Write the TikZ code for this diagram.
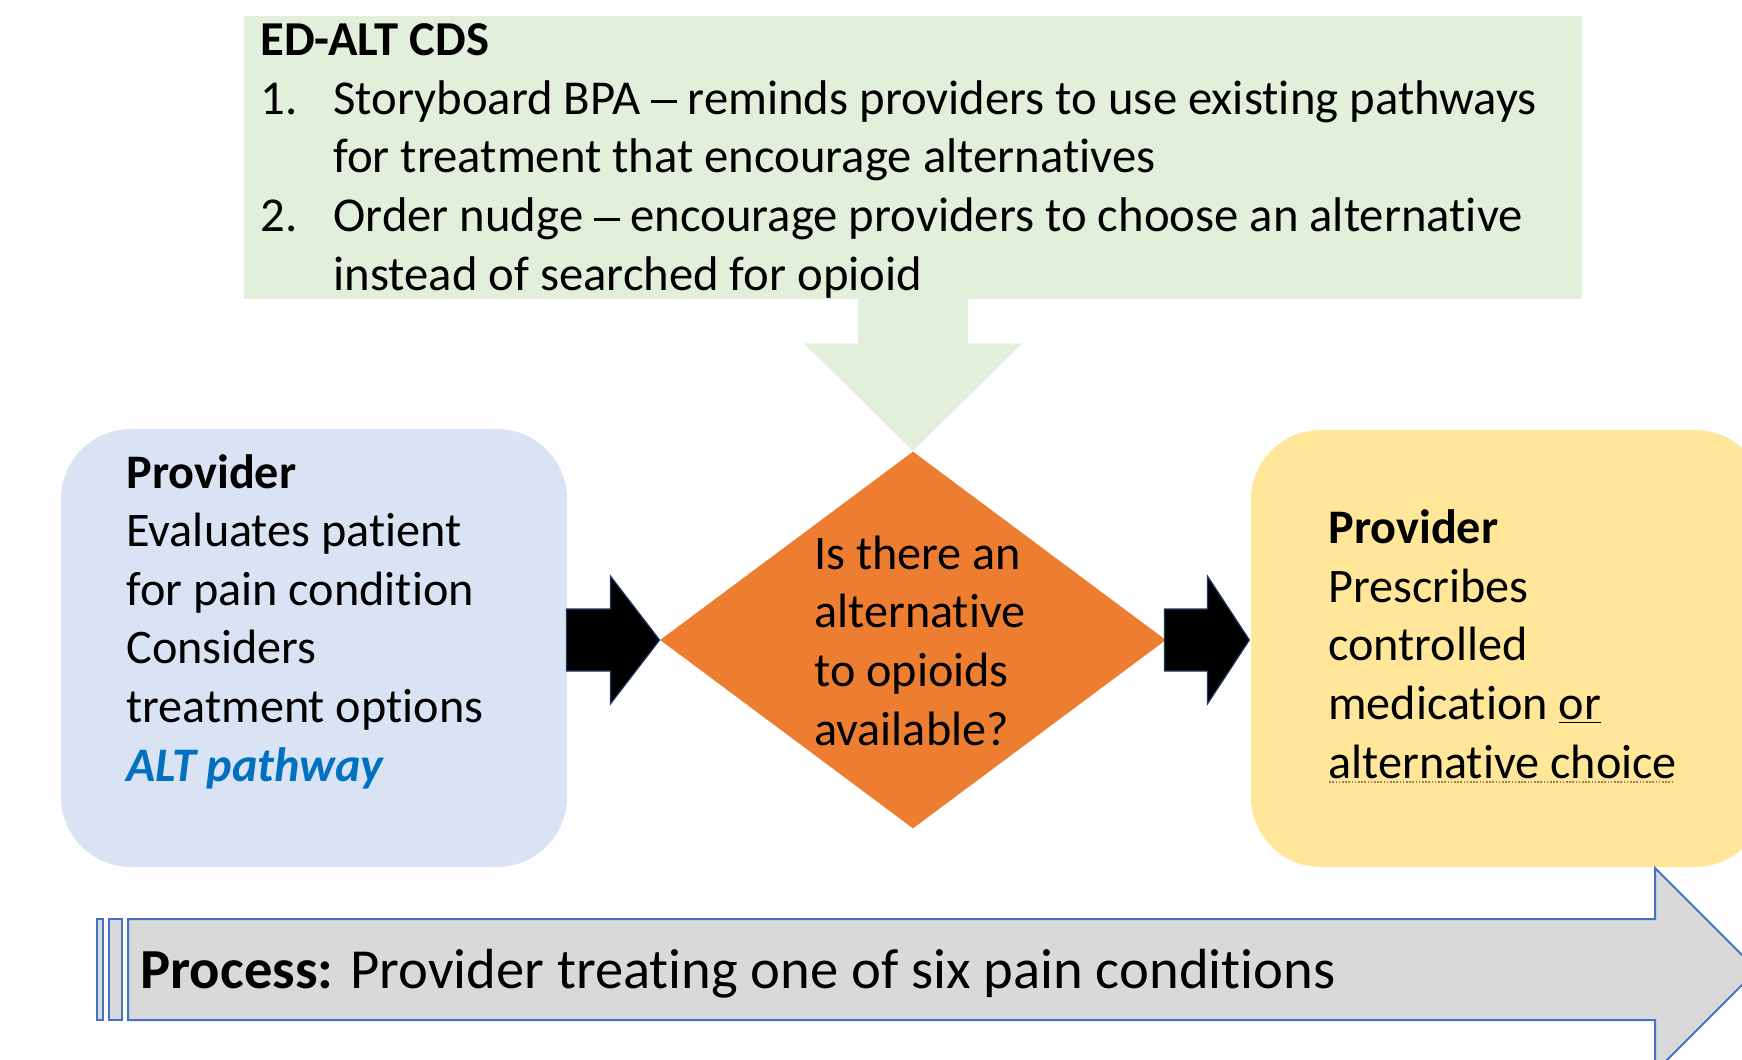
\documentclass[tikz,border=0pt]{standalone}
\usepackage{fontspec}
\setmainfont{Carlito}[Ligatures={TeX,NoCommon}]
\usepackage{tikz}
\usetikzlibrary{shapes.geometric,positioning,calc}
\definecolor{cdsgreen}{RGB}{226,239,218}
\definecolor{provblue}{RGB}{218,227,243}
\definecolor{askorange}{RGB}{237,125,49}
\definecolor{presyellow}{RGB}{255,230,153}
\definecolor{procgray}{RGB}{217,217,217}
\definecolor{procedge}{RGB}{68,114,196}
\definecolor{altblue}{RGB}{0,112,192}
\definecolor{tipedge}{RGB}{31,56,100}
\definecolor{spellgray}{RGB}{150,130,90}

% dotted mark under a word
\newcommand{\dotunder}[1]{\setbox0\hbox{#1}\rlap{\raisebox{-2.5pt}{\hbox to \wd0{\color{spellgray}\leaders\hbox to 1.6pt{\hss\rule{0.8pt}{0.8pt}\hss}\hfill}}}#1}
% wide dash between list phrases
\newcommand{\longdash}{\rule[0.22em]{0.52em}{0.065em}}

\begin{document}
\begin{tikzpicture}[x=0.5pt, y=-0.5pt,
  txt/.style={anchor=base west, inner sep=0pt, align=left, font=\fontsize{24.1}{29.3}\selectfont},
  panel/.style={rectangle, inner sep=0pt},
  roundbox/.style={rectangle, rounded corners=35pt, inner sep=0pt},
  tipblock/.style={fill=black, draw=tipedge, line width=0.6pt, line join=miter},
  procbar/.style={fill=procgray, draw=procedge, line width=1pt}
]
  \useasboundingbox (0,0) rectangle (1742,1060);
  \clip (0,0) rectangle (1742,1060);

  % Boxes
  \node[panel, fill=cdsgreen, minimum width=669pt, minimum height=141.5pt] (cds) at (913,157.5) {};
  \node[roundbox, fill=provblue, minimum width=253pt, minimum height=219pt] (prov) at (314,648) {};
  \node[diamond, fill=askorange, inner sep=0pt, minimum width=253pt, minimum height=188.5pt] (quest) at (913,640) {};
  \node[roundbox, fill=presyellow, minimum width=257pt, minimum height=218.5pt] (pres) at (1508,648.5) {};

  % Process bar
  \fill[procbar] (97,919) rectangle (103,1020);
  \fill[procbar] (109,919) rectangle (122,1020);
  \coordinate (proctip) at (1757,970);
  \filldraw[procbar] (128,919) -- (1655,919) -- (1655,868) -- (proctip)
    -- (1655,1072) -- (1655,1020) -- (128,1020) -- cycle;

  % Arrows
  \fill[cdsgreen] ($(cds.south)+(-55,-1)$) -- ++(0,45) -- ++(-54,0) -- (quest.north)
    -- ($(cds.south)+(109,44)$) -- ++(-54,0) -- ++(0,-45) -- cycle;
  \filldraw[tipblock] ($(prov.east |- quest.west)+(-1,-31)$) -- ++(44,0) -- ++(0,-33)
    -- (quest.west) -- ($(prov.east |- quest.west)+(43,64)$) -- ++(0,-33) -- ++(-44,0) -- cycle;
  \filldraw[tipblock] ($(quest.east)+(-2,-31)$) -- ++(43,0) -- ++(0,-33)
    -- ($(quest.east)+(83,0)$) -- ($(quest.east)+(41,64)$) -- ++(0,-33) -- ++(-43,0) -- cycle;

  % Texts (placed by the baseline of the last line)
  \node[txt, font=\fontsize{24.35}{29.3}\selectfont] (cdstxt) at (260,290)
    {{\bfseries ED-ALT CDS}\\
     \makebox[36.5pt][l]{1.}Storyboard BPA \longdash{} reminds providers to use existing pathways\\
     \hspace*{36.5pt}for treatment that encourage alternatives\\
     \makebox[36.5pt][l]{2.}Order nudge \longdash{} encourage providers to choose an alternative\\
     \hspace*{36.5pt}instead of searched for opioid};
  \node[txt] (provtxt) at (126,781)
    {{\bfseries Provider}\\
     Evaluates patient\\
     for pain condition\\
     Considers\\
     treatment options\\
     {\color{altblue}\bfseries\itshape ALT pathway}};
  \node[txt] (questtxt) at (814,745)
    {Is there an\\
     alternative\\
     to opioids\\
     available?};
  \node[txt] (prestxt) at (1328,778)
    {{\bfseries Provider}\\
     Prescribes\\
     controlled\\
     medication \underline{or}\\
     \dotunder{alternative choice}};
  \node[txt, font=\fontsize{28.3}{34}\selectfont] (proctxt) at (140,988)
    {{\bfseries Process:} Provider treating one of six pain conditions};
\end{tikzpicture}
\end{document}
